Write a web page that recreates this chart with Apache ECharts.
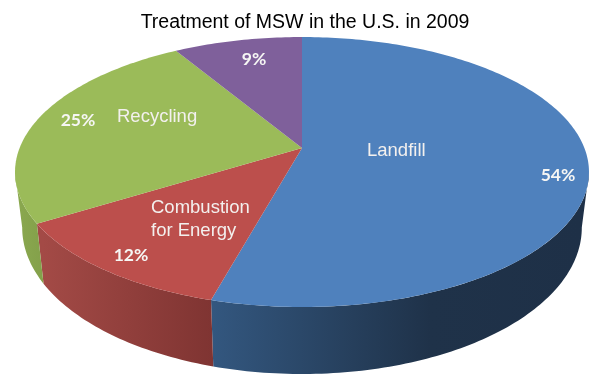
<!DOCTYPE html>
<html>
<head>
<meta charset="utf-8">
<style>html,body{margin:0;padding:0;background:#fff}#c{width:606px;height:380px}</style>
<script src="https://cdn.jsdelivr.net/npm/echarts@6/dist/echarts.min.js"></script>
</head>
<body>
<div id="c"></div>
<script>
var chartTitle = 'Treatment of MSW in the U.S. in 2009';
var categories = ['Landfill', 'Combustion\nfor Energy', 'Recycling', ''];
var percents = [54.3, 11.9, 25.2, 8.6];
var percentLabels = ['54%', '12%', '25%', '9%'];
var topColors = ['#4f81bd', '#bc4f4c', '#9bbb59', '#7f609b'];
var wallStops = [
  [[0, '#33577f'], [0.59, '#1f3249'], [1, '#1e3047']],
  [[0, '#a34a46'], [1, '#7f3432']],
  [[0, '#8aa84f'], [1, '#83a04a']],
  null
];

// Projection of the disc (layout, not data)
var VIEW = {cx: 302, cy: 148, a: 282.4, b: 130.7, k: 0.178, base: {sx: 0.975, sy: 1.085, dy: 53.5}};
var GRAD_RANGE = [[212, 582], [43, 213], [17, 44], null];
var CAT_POS = [[367, 151], [151, 219], [117, 117], [0, 0]];
var PCT_POS = [[558, 175], [131, 255], [78, 120], [254, 59]];

function project(deg, r) {
  var t = deg * Math.PI / 180, X = r * Math.sin(t), Y = -r * Math.cos(t), d = 1 - VIEW.k * Y;
  return [VIEW.a * X / d, VIEW.b * Y / d];
}
function topPt(deg) { var p = project(deg, 1); return [VIEW.cx + p[0], VIEW.cy + p[1]]; }
function basePt(deg) {
  var p = project(deg, 1), B = VIEW.base;
  return [VIEW.cx + p[0] * B.sx, VIEW.cy + B.dy + p[1] * B.sy];
}
var L = Math.acos(-VIEW.k) * 180 / Math.PI;   // silhouette angles
var visFrom = L, visTo = 360 - L;

var total = percents.reduce(function (s, v) { return s + v; }, 0);
var rows = [], acc = 0;
percents.forEach(function (v, i) { rows.push([acc, v, i]); acc += v; });

function arc(from, to, fn) {
  var pts = [], n = Math.max(2, Math.ceil(Math.abs(to - from)));
  for (var i = 0; i <= n; i++) pts.push(fn(from + (to - from) * i / n));
  return pts;
}
function renderItem(params, api) {
  var start = api.value(0), val = api.value(1), i = api.value(2);
  var a0 = start / total * 360, a1 = (start + val) / total * 360;
  var children = [];
  var w0 = Math.max(a0, visFrom), w1 = Math.min(a1, visTo);
  if (w1 > w0 && wallStops[i]) {
    var pts = arc(w0, w1, topPt).concat(arc(w1, w0, basePt));
    var xs = GRAD_RANGE[i];
    children.push({
      type: 'polygon', z2: 1,
      shape: {points: pts},
      style: {fill: new echarts.graphic.LinearGradient(xs[0], 0, xs[1], 0,
        wallStops[i].map(function (s) { return {offset: s[0], color: s[1]}; }), true)}
    });
  }
  var poly = [[VIEW.cx, VIEW.cy]].concat(arc(a0, a1, topPt));
  children.push({type: 'polygon', z2: 2, shape: {points: poly}, style: {fill: topColors[i]}});
  if (categories[i]) {
    children.push({
      type: 'text', z2: 5, x: CAT_POS[i][0], y: CAT_POS[i][1],
      style: {text: categories[i], fill: '#f3f0ee', align: 'left', verticalAlign: 'middle',
        font: '18.5px "Liberation Sans"', lineHeight: 23}
    });
  }
  children.push({
    type: 'text', z2: 5, x: PCT_POS[i][0], y: PCT_POS[i][1],
    style: {text: percentLabels[i], fill: '#f6f6f4', align: 'center', verticalAlign: 'middle',
      font: 'bold 17.5px Lato'}
  });
  return {type: 'group', children: children};
}

var chart = echarts.init(document.getElementById('c'), null, {renderer: 'canvas'});
chart.setOption({
  backgroundColor: '#ffffff',
  animation: false,
  title: {
    text: chartTitle, left: 300, top: 8, textAlign: 'center',
    textStyle: {fontFamily: 'Liberation Sans', fontWeight: 'normal', fontSize: 19.5, color: '#000'}
  },
  series: [{
    type: 'custom', coordinateSystem: 'none', silent: true,
    renderItem: renderItem, data: rows
  }]
});
</script>
</body>
</html>
